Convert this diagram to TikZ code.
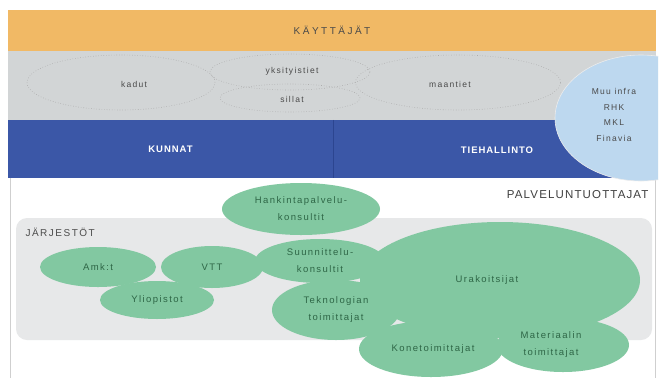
\documentclass[tikz,border=0pt]{standalone}
\usepackage{fontspec}
\setmainfont{Liberation Sans}
\usetikzlibrary{shapes.geometric}
\definecolor{orangebar}{HTML}{F1B965}
\definecolor{grayband}{HTML}{D2D5D6}
\definecolor{blueband}{HTML}{3B57A7}
\definecolor{bluedark}{HTML}{2C4590}
\definecolor{lightblue}{HTML}{BDD8EF}
\definecolor{panelgray}{HTML}{E7E8E9}
\definecolor{leaf}{HTML}{82C8A1}
\definecolor{leaftext}{HTML}{2E6646}
\definecolor{darktext}{HTML}{4A4A4A}
\definecolor{framegray}{HTML}{CFCFCF}
\tikzset{
  band/.style={rectangle, inner sep=0, anchor=center},
  roadell/.style={ellipse, draw=gray!65, dotted, line width=0.6pt, inner sep=0},
  roadtext/.style={font=\fontsize{8.5}{10}\selectfont\addfontfeatures{LetterSpace=15}, text=darktext},
  org/.style={ellipse, fill=leaf, inner sep=0, text=leaftext, align=center,
              font=\fontsize{9.5}{17}\selectfont\addfontfeatures{LetterSpace=15}},
  capt/.style={font=\fontsize{10}{12}\selectfont\addfontfeatures{LetterSpace=25}, text=darktext},
  bluetext/.style={text=white, font=\bfseries\fontsize{9.5}{11}\selectfont\addfontfeatures{LetterSpace=10}}
}
\begin{document}
\begin{tikzpicture}[x=1pt,y=-1pt]
\useasboundingbox (0,0) rectangle (660,378);
\fill[white] (0,0) rectangle (660,378);
% frame of the lower area
\draw[framegray, line width=1pt] (10,178) -- (10,378);
\draw[framegray, line width=1pt] (655,178) -- (655,378);
% bands
\node[band, fill=orangebar, minimum width=648, minimum height=41, capt] (users) at (332,30.5) {KÄYTTÄJÄT};
\node[band, fill=grayband, minimum width=648, minimum height=69] (infra) at (332,85.5) {};
\node[band, fill=blueband, minimum width=325, minimum height=58, bluetext] (kunnat) at (170.5,149) {KUNNAT};
\node[band, fill=blueband, minimum width=323, minimum height=58] (tiehallinto) at (494.5,149) {};
\node[bluetext] (tietext) at (497,150) {TIEHALLINTO};
\draw[bluedark, line width=0.6pt] (kunnat.north east) -- (kunnat.south east);
% road ellipses
\node[roadell, minimum width=188, minimum height=55] (ekadut) at (121,82.5) {};
\node[roadell, minimum width=160, minimum height=36] (eyks) at (290,72) {};
\node[roadell, minimum width=140, minimum height=28] (esillat) at (290,98) {};
\node[roadell, minimum width=205, minimum height=55] (emaantiet) at (458,82.5) {};
\node[roadtext] (kadut) at (134,84) {kadut};
\node[roadtext] (yks) at (292,71) {yksityistiet};
\node[roadtext] (sillat) at (292,99) {sillat};
\node[roadtext] (maantiet) at (450,84) {maantiet};
% other infra ellipse
\begin{scope}
\clip (0,0) rectangle (658,378);
\node[ellipse, fill=lightblue, draw=white!85!gray, line width=0.6pt, inner sep=0,
      minimum width=172, minimum height=126] (muu) at (641,118) {};
\end{scope}
\node[roadtext, align=center, font=\fontsize{8.5}{15.5}\selectfont\addfontfeatures{LetterSpace=15}] (muutext) at (614,115)
  {Muu infra\\RHK\\MKL\\Finavia};
% service producers
\node[anchor=east, font=\fontsize{11.5}{13}\selectfont\addfontfeatures{LetterSpace=10}, text=black!75] (palv) at (652,195) {PALVELUNTUOTTAJAT};
\node[rectangle, rounded corners=11, fill=panelgray, minimum width=636, minimum height=122,
      inner sep=0] (panel) at (334,279) {};
\node[anchor=west, font=\fontsize{10}{12}\selectfont\addfontfeatures{LetterSpace=15}, text=black!70] (jarj) at (22,232) {JÄRJESTÖT};
% organisations
\node[org, minimum width=280, minimum height=116] (urak) at (500,280) {\hspace*{-26pt}Urakoitsijat};
\node[org, minimum width=130, minimum height=44] (suun) at (320,261) {Suunnittelu-\\konsultit};
\node[org, minimum width=128, minimum height=60] (tekn) at (336,310) {Teknologian\\toimittajat};
\node[org, minimum width=144, minimum height=56] (kone) at (431,349) {\hspace*{4pt}Konetoimittajat};
\node[org, minimum width=132, minimum height=54] (mater) at (563,345) {\hspace*{-24pt}Materiaalin\\\hspace*{-24pt}toimittajat};
\node[org, minimum width=158, minimum height=52] (hank) at (301,209) {Hankintapalvelu-\\konsultit};
\node[org, minimum width=114, minimum height=38] (yliop) at (157,300) {Yliopistot};
\node[org, minimum width=116, minimum height=40] (amk) at (98,267) {Amk:t};
\node[org, minimum width=102, minimum height=42] (vtt) at (212,267) {VTT};
\end{tikzpicture}
\end{document}
